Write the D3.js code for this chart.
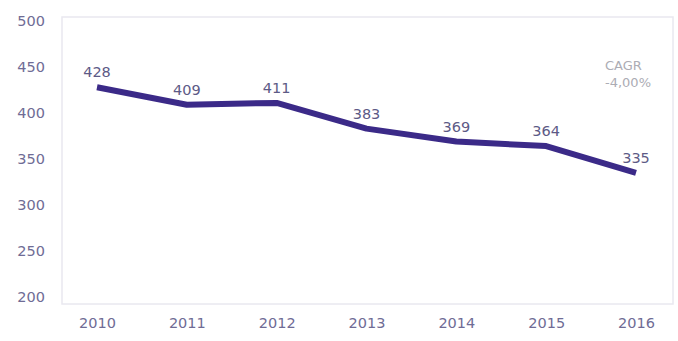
<!DOCTYPE html>
<html>
<head>
<meta charset="utf-8">
<script src="https://cdn.jsdelivr.net/npm/d3@7"></script>
<style>
  html, body { margin: 0; padding: 0; background: #ffffff; }
  svg { display: block; }
  text { font-family: "DejaVu Sans", Verdana, sans-serif; }
</style>
</head>
<body>
<svg id="chart" width="678" height="341"></svg>
<script>
// Yearly values
const years = ["2010", "2011", "2012", "2013", "2014", "2015", "2016"];
const values = [428, 409, 411, 383, 369, 364, 335];
const yTicks = [200, 250, 300, 350, 400, 450, 500];
const cagrLines = ["CAGR", "-4,00%"];

const svg = d3.select("#chart");

const frame = { left: 62, right: 673, top: 17, bottom: 304 };

const x = d3.scalePoint().domain(years).range([97, 636]);
const y = d3.scaleLinear().domain([200, 500]).range([297, 21]);

// Plot frame
svg.append("rect")
  .attr("x", frame.left).attr("y", frame.top)
  .attr("width", frame.right - frame.left)
  .attr("height", frame.bottom - frame.top)
  .attr("fill", "none")
  .attr("stroke", "#e9e8ef")
  .attr("stroke-width", 1.5);

// Y axis labels
const yAxis = d3.axisLeft(y).tickValues(yTicks).tickSize(0).tickPadding(0);
svg.append("g")
  .attr("transform", "translate(45,0)")
  .call(yAxis)
  .call(g => g.select(".domain").remove())
  .call(g => g.selectAll("text")
    .attr("fill", "#6f6c95")
    .style("font-size", "14.5px"));

// X axis labels
const xAxis = d3.axisBottom(x).tickSize(0).tickPadding(0);
svg.append("g")
  .attr("transform", "translate(0,318)")
  .call(xAxis)
  .call(g => g.select(".domain").remove())
  .call(g => g.selectAll("text")
    .attr("fill", "#6f6c95")
    .style("font-size", "14.5px"));

const data = years.map((yr, i) => ({ year: yr, value: values[i] }));

// Series line
const line = d3.line()
  .x(d => x(d.year))
  .y(d => y(d.value));

svg.append("path")
  .datum(data)
  .attr("d", line)
  .attr("fill", "none")
  .attr("stroke", "#3b2a88")
  .attr("stroke-width", 6)
  .attr("stroke-linejoin", "round")
  .attr("stroke-linecap", "butt");

// Value labels above each point
svg.append("g")
  .selectAll("text")
  .data(data)
  .join("text")
  .attr("x", d => x(d.year))
  .attr("y", d => y(d.value) - 10)
  .attr("text-anchor", "middle")
  .attr("fill", "#5d5a86")
  .style("font-size", "14.5px")
  .text(d => d.value);

// Growth note
svg.append("g")
  .selectAll("text")
  .data(cagrLines)
  .join("text")
  .attr("x", 605)
  .attr("y", (d, i) => 70 + i * 17)
  .attr("fill", "#acacb4")
  .style("font-size", "13px")
  .text(d => d);
</script>
</body>
</html>
